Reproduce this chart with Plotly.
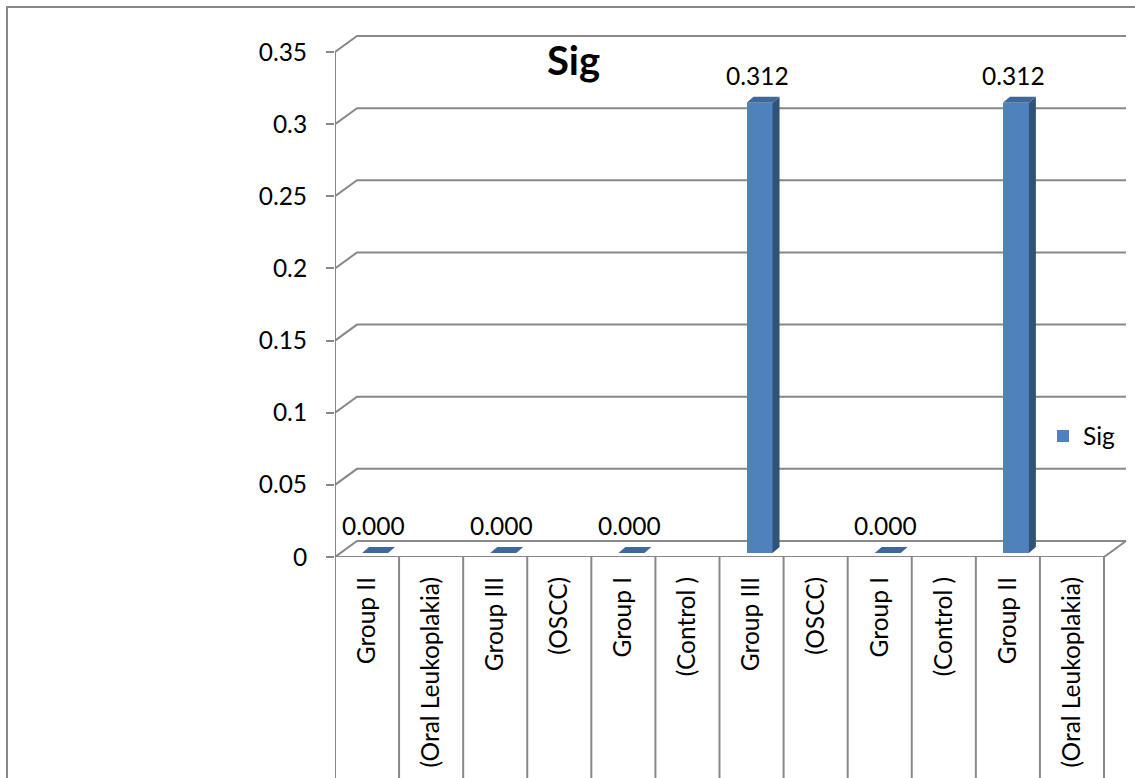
import plotly.graph_objects as go

# ---- data -------------------------------------------------------------
categories = ["Group II", "(Oral Leukoplakia)", "Group III", "(OSCC)",
              "Group I", "(Control )", "Group III", "(OSCC)",
              "Group I", "(Control )", "Group II", "(Oral Leukoplakia)"]
sig_values = [0.000, None, 0.000, None, 0.000, None,
              0.312, None, 0.000, None, 0.312, None]
y_tick_vals = [0, 0.05, 0.1, 0.15, 0.2, 0.25, 0.3, 0.35]
y_tick_text = ["0", "0.05", "0.1", "0.15", "0.2", "0.25", "0.3", "0.35"]
series_name = "Sig"
chart_title = "Sig"

# ---- page geometry (pixels) ------------------------------------------
W, H = 1135, 778
X_LEFT, X_RIGHT = 335, 1104      # front edge of the floor
Y_ZERO, Y_TOP = 557, 52          # front plane: value 0 and value 0.35
DEPTH_X, DEPTH_Y = 22, 16        # 3-D depth of the back wall
PAD = 3
Y_MAX = 0.35

BAR_W = 26          # front face width
BAR_SHIFT_X = 8     # front face offset from the category centre
BAR_SHIFT_Y = 4     # front face lifted above the front floor edge
BAR_DX, BAR_DY = 7, 6   # bar depth

FONT = "Lato"
FONT_SIZE = 24.5
GRID = "#888888"
FRONT = "#4f81bd"
SIDE = "#31527b"
TOP = "#3e679a"

n = len(categories)
cat_px = (X_RIGHT - X_LEFT) / n
val_px = (Y_ZERO - Y_TOP) / Y_MAX
dx = DEPTH_X / cat_px
dy = DEPTH_Y / val_px

x_range = [-0.5, n - 0.5 + dx + PAD / cat_px]
y_range = [0, Y_MAX + dy + PAD / val_px]

m_l = X_LEFT
m_b = H - Y_ZERO
m_r = W - (X_RIGHT + DEPTH_X + PAD)
m_t = Y_TOP - DEPTH_Y - PAD
plot_w = W - m_l - m_r
plot_h = H - m_t - m_b


def paper_x(px):
    return (px - m_l) / plot_w


def paper_y(py):
    return (H - m_b - py) / plot_h


idx = list(range(n))
bw = BAR_W / cat_px
bsx = BAR_SHIFT_X / cat_px
bsy = BAR_SHIFT_Y / val_px
bdx = BAR_DX / cat_px
bdy = BAR_DY / val_px

fig = go.Figure()

# front faces of the columns
fig.add_trace(go.Bar(
    x=idx, y=sig_values, base=[bsy] * n,
    width=bw, offset=bsx - bw / 2,
    marker=dict(color=FRONT, line=dict(width=0)),
    name=series_name, showlegend=True, hoverinfo="skip",
))

# side and top faces built from the same values
side_x, side_y, top_x, top_y = [], [], [], []
for i, v in enumerate(sig_values):
    if v is None:
        continue
    xl = i + bsx - bw / 2
    xr = i + bsx + bw / 2
    yb = bsy
    yt = v + bsy
    side_x += [xr, xr, xr + bdx, xr + bdx, xr, None]
    side_y += [yb, yt, yt + bdy, yb + bdy, yb, None]
    top_x += [xl, xr, xr + bdx, xl + bdx, xl, None]
    top_y += [yt, yt, yt + bdy, yt + bdy, yt, None]

fig.add_trace(go.Scatter(x=side_x, y=side_y, mode="lines", fill="toself",
                         fillcolor=SIDE, line=dict(width=0),
                         showlegend=False, hoverinfo="skip"))
fig.add_trace(go.Scatter(x=top_x, y=top_y, mode="lines", fill="toself",
                         fillcolor=TOP, line=dict(width=0),
                         showlegend=False, hoverinfo="skip"))

shapes = []
# gridlines on the back wall, joined to the axis by a diagonal
for v in y_tick_vals:
    shapes.append(dict(
        type="path", xref="x", yref="y", layer="below",
        path=f"M {-0.5},{v} L {-0.5 + dx},{v + dy} L {n - 0.5 + dx},{v + dy}",
        line=dict(color=GRID, width=2),
    ))
# front edge of the floor
shapes.append(dict(
    type="path", xref="x", yref="y", layer="below",
    path=f"M {-0.5},0 L {n - 0.5},0 L {n - 0.5 + dx},{dy}",
    line=dict(color=GRID, width=2),
))
# value axis line
shapes.append(dict(type="line", xref="x", yref="y", x0=-0.5, x1=-0.5,
                   y0=0, y1=Y_MAX, line=dict(color=GRID, width=2)))
# category dividers running down through the label area
for k in range(n + 1):
    shapes.append(dict(type="line", xref="x", yref="paper",
                       x0=k - 0.5, x1=k - 0.5,
                       y0=0, y1=paper_y(H + 10),
                       line=dict(color=GRID, width=2)))
# outer chart border
shapes.append(dict(type="rect", xref="paper", yref="paper",
                   x0=paper_x(7), x1=paper_x(W + 20),
                   y0=paper_y(H + 20), y1=paper_y(7),
                   line=dict(color=GRID, width=2)))

annotations = []
for i, v in enumerate(sig_values):
    if v is None:
        continue
    annotations.append(dict(
        x=i + bsx - 0.03, y=v + bsy + bdy, xref="x", yref="y",
        text=f"{v:.3f}", showarrow=False, yanchor="bottom", yshift=5,
        font=dict(family=FONT, size=FONT_SIZE, color="#000000"),
    ))
annotations.append(dict(
    x=paper_x(573), y=paper_y(60), xref="paper", yref="paper",
    text=f"<b>{chart_title}</b>", showarrow=False,
    xanchor="center", yanchor="middle",
    font=dict(family=FONT, size=40, color="#000000"),
))

fig.update_layout(
    width=W, height=H,
    margin=dict(l=m_l, r=m_r, t=m_t, b=m_b, pad=0),
    paper_bgcolor="white", plot_bgcolor="white",
    font=dict(family=FONT, size=FONT_SIZE, color="#000000"),
    shapes=shapes, annotations=annotations,
    bargap=0,
    showlegend=True,
    legend=dict(x=paper_x(1043), y=paper_y(436), xanchor="left",
                yanchor="middle", bgcolor="rgba(0,0,0,0)",
                font=dict(family=FONT, size=FONT_SIZE), itemwidth=30),
    xaxis=dict(range=x_range, tickmode="array", tickvals=idx,
               ticktext=categories, tickangle=-90, showgrid=False,
               zeroline=False, showline=False, ticks="",
               ticklabelstandoff=14, fixedrange=True),
    yaxis=dict(range=y_range, tickmode="array", tickvals=y_tick_vals,
               ticktext=y_tick_text, showgrid=False, zeroline=False,
               showline=False, ticks="outside", ticklen=8,
               tickcolor=GRID, tickwidth=2, ticklabelstandoff=14,
               fixedrange=True),
)

fig.write_html("out.html")
